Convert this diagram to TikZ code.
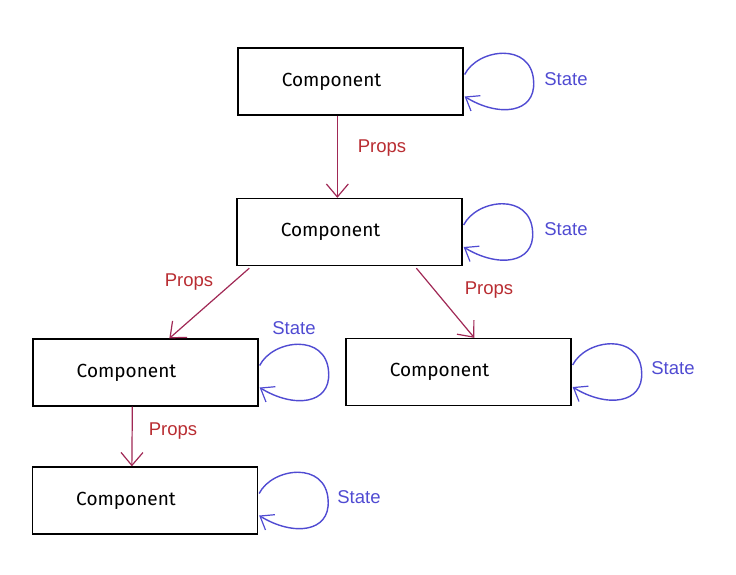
\documentclass[tikz,border=0pt]{standalone}
\usepackage{fontspec}
\setmainfont{Liberation Sans}
\newfontfamily\compfont{Fira Sans}
\usetikzlibrary{arrows.meta,calc}
\definecolor{propred}{RGB}{185,45,50}
\definecolor{propline}{RGB}{160,40,85}
\definecolor{stateblue}{RGB}{80,75,210}
\tikzset{
  comp/.style={draw=black,line width=1.3pt,minimum width=225pt,minimum height=67pt,inner sep=0pt,
    font=\compfont\fontsize{19}{19}\selectfont},
  proparrow/.style={draw=propline,line width=1.2pt,-{Straight Barb[length=13pt,width=22pt,line width=1.2pt]}},
  proplabel/.style={text=propred,font=\fontsize{18.5}{18.5}\selectfont,inner sep=0pt},
  stateloop/.style={draw=stateblue,line width=1.4pt,-{Straight Barb[length=12pt,width=18pt,line width=1.2pt]}},
  statelabel/.style={text=stateblue,font=\fontsize{18.5}{18.5}\selectfont,inner sep=0pt}
}
\begin{document}
\begin{tikzpicture}[x=1pt,y=-1pt]
\useasboundingbox (0,0) rectangle (736,574);
\node[comp] (c1) at (350.5,81.5) {\hspace*{-38pt}Component};
\node[comp] (c2) at (349.5,232) {\hspace*{-38pt}Component};
\node[comp] (c3) at (145.5,372.5) {\hspace*{-38pt}Component};
\node[comp] (c4) at (458.5,372) {\hspace*{-38pt}Component};
\node[comp] (c5) at (145,500.5) {\hspace*{-38pt}Component};
% props arrows
\draw[proparrow] ($(c1.south west)+(100,0)$) coordinate (p1s) -- ($(c2.north west)+(101,0)$) coordinate (p1e);
\draw[proparrow] ($(c2.south west)+(13,2)$) coordinate (p2s) -- ($(c3.north west)+(137,0)$) coordinate (p2e);
\draw[proparrow] ($(c2.south west)+(180,2)$) coordinate (p3s) -- ($(c4.north west)+(129,0)$) coordinate (p3e);
\draw[proparrow] ($(c3.south west)+(100,0)$) coordinate (p4s) -- ($(c5.north west)+(100,0)$) coordinate (p4e);
\node[proplabel] (l1) at (382,148) {Props};
\node[proplabel] (l2) at (189,282) {Props};
\node[proplabel] (l3) at (489,290) {Props};
\node[proplabel] (l4) at (173,431) {Props};
% state loops
\foreach \c in {c1,c2,c3,c4,c5}{
  \draw[stateloop] ($(\c.east)+(1,-7)$) .. controls ($(\c.east)+(14,-33)$) and ($(\c.east)+(68,-40)$) ..
    ($(\c.east)+(70,0)$) .. controls ($(\c.east)+(72,32)$) and ($(\c.east)+(35,36)$) .. ($(\c.east)+(1,15)$);
}
\node[statelabel] (s1) at (566,79) {State};
\node[statelabel] (s2) at (566,229) {State};
\node[statelabel] (s3) at (294,328) {State};
\node[statelabel] (s4) at (673,368) {State};
\node[statelabel] (s5) at (359,497) {State};
\end{tikzpicture}
\end{document}
